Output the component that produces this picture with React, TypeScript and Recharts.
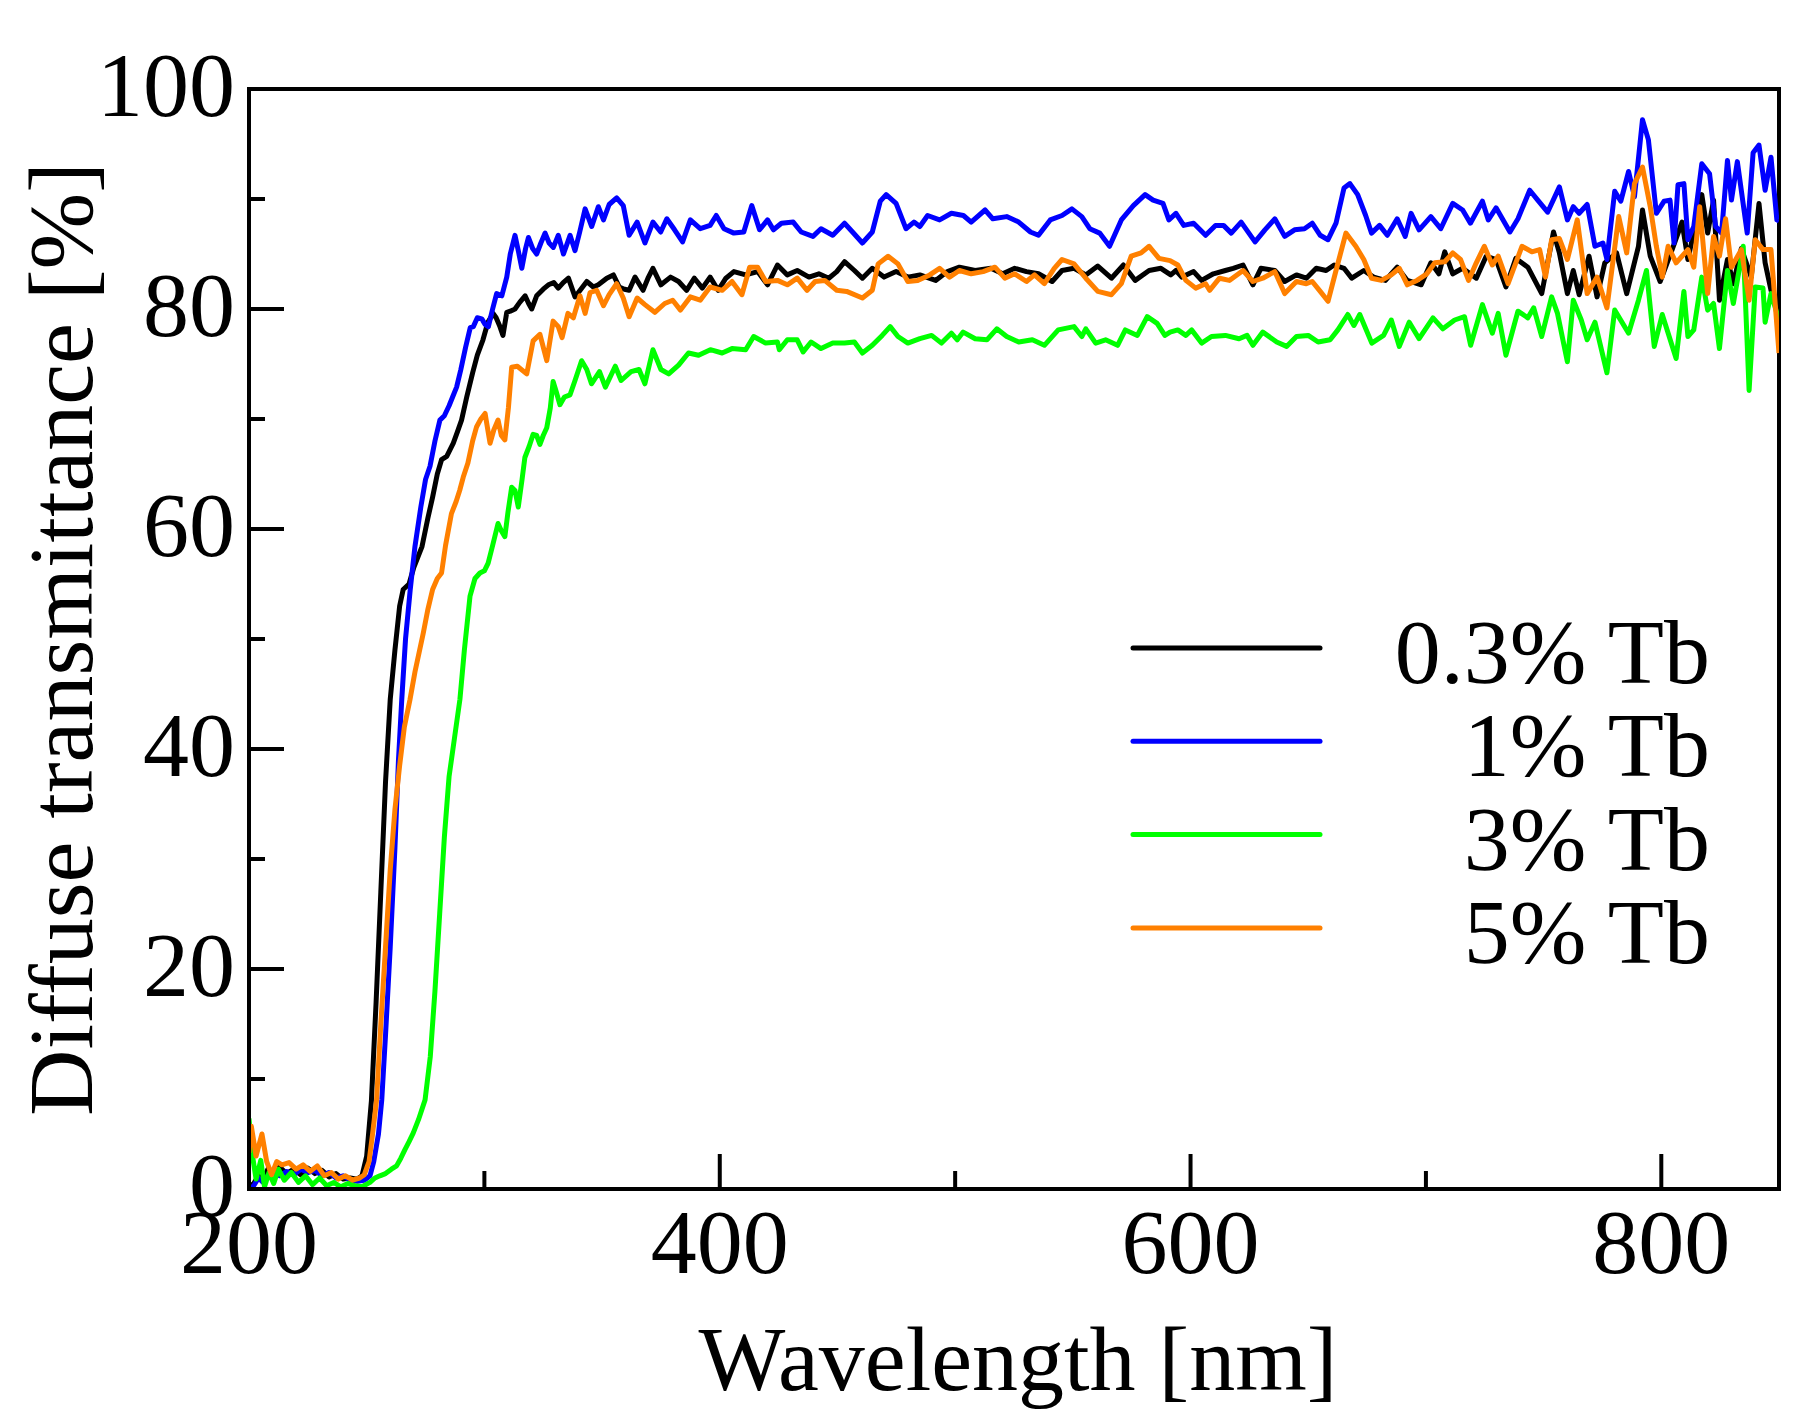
import { LineChart, Line, XAxis, YAxis, ReferenceLine, Legend } from 'recharts';

const FONT = "'Liberation Serif', 'Times New Roman', serif";

// axis ticks
const wavelengthTicks = [200, 300, 400, 500, 600, 700, 800];
const transmittanceTicks = [0, 10, 20, 30, 40, 50, 60, 70, 80, 90, 100];

const seriesNames = ['0.3% Tb', '1% Tb', '3% Tb', '5% Tb'];
const seriesColors = ['#000000', '#0000ff', '#00ff00', '#ff8000'];

// [wavelength nm, diffuse transmittance %]
const tb03: [number, number][] = [
  [200, 0.2], [202, 0.5], [204, 1.2], [206, 0.8], [208, 1.8], [210, 1.5], [213, 2.0], [216, 1.4], [219, 1.8], [222, 1.3],
  [225, 1.9], [228, 1.4], [231, 1.7], [234, 1.1], [237, 1.4], [240, 0.9], [243, 1.0], [246, 0.9], [248, 1.2], [250, 3],
  [252, 8], [254, 17], [256, 27], [258, 37], [260, 44.5], [262, 49], [264, 53], [265.5, 54.5], [268, 55], [270, 56.5],
  [273.5, 58.4], [276, 61], [278, 62.9], [280, 65], [281.8, 66.3], [284, 66.6], [286.8, 67.8], [288.5, 68.8], [290.3, 69.9],
  [292.5, 72], [295, 74.2], [297, 75.8], [299.4, 77.2], [301.5, 78.8], [303.7, 79.6], [305, 79.2], [306.6, 78.4], [307.9, 77.6],
  [309.5, 79.7], [311, 79.8], [313, 80], [315, 80.6], [317.3, 81.2], [318.8, 80.5], [320.1, 80], [322.2, 81.2], [325, 81.8],
  [327.2, 82.2], [329.5, 82.4], [331.4, 81.9], [333.5, 82.4], [335.7, 82.8], [338.5, 81.1], [341, 81.8], [343.5, 82.5],
  [346.3, 82], [348.4, 82.2], [352, 82.8], [354.8, 83.1], [357.3, 82], [359.5, 81.8], [361.5, 81.7], [364, 82.9], [367.4, 81.7],
  [369.5, 82.8], [371.6, 83.7], [375, 82.2], [379.1, 82.9], [382.5, 82.5], [385.9, 81.7], [389.2, 82.8], [392.6, 81.9],
  [395.9, 82.9], [399.3, 81.7], [402.6, 82.8], [406, 83.4], [411, 83.1], [416.1, 83.4], [420.3, 82.2], [424.5, 84], [428.7, 83.1],
  [432.9, 83.5], [437.9, 82.9], [442.1, 83.2], [446.3, 82.8], [449.7, 83.4], [453, 84.3], [457.2, 83.5], [460.6, 82.8],
  [464.8, 83.7], [469.8, 82.9], [474.9, 83.4], [479.9, 82.9], [485, 83.1], [491.7, 82.6], [496.7, 83.4], [501.8, 83.8],
  [508.5, 83.5], [515.2, 83.7], [520.2, 83.2], [525.3, 83.7], [530.3, 83.4], [535.4, 83.2], [541.2, 82.5], [545.4, 83.5],
  [550.5, 83.7], [555.5, 83.1], [560.6, 83.9], [566.4, 82.8], [571.5, 84], [576.5, 82.6], [582.4, 83.5], [587.4, 83.7],
  [591.6, 83.1], [593.8, 83.5], [596.3, 82.9], [601.3, 83.4], [604.7, 82.6], [609.7, 83.2], [614.8, 83.5], [618.1, 83.7],
  [622.3, 84], [626.5, 82.2], [629.9, 83.7], [635.8, 83.5], [640, 82.5], [645, 83.1], [649.2, 82.8], [653.4, 83.7], [657.6, 83.5],
  [661, 84], [665.2, 83.7], [668.5, 82.8], [673.6, 83.5], [677.8, 82.9], [682.8, 82.6], [687.8, 83.8], [692.1, 82.6], [698, 82.2],
  [702.1, 84.2], [705.5, 83.2], [708, 85.2], [711.4, 83.2], [715.6, 83.7], [721.4, 82.8], [725.6, 84.8], [729.8, 84.5], [734, 82],
  [738.2, 84.6], [743.3, 83.8], [749.2, 81.4], [754.2, 87], [756.7, 85.1], [760.1, 81.4], [762.6, 83.5], [765.1, 81.3],
  [769.3, 84.8], [772.7, 81.1], [776, 84.2], [781, 85.1], [785.3, 81.4], [790.3, 85.7], [792, 89], [795.3, 84.8], [799.5, 82.5],
  [804.6, 85.4], [808.8, 87.9], [811.3, 84.5], [817.2, 90.4], [819.7, 86.9], [822.2, 89.9], [824.7, 80.8], [828.1, 84.5],
  [830.6, 82.3], [834, 85.5], [838.2, 82.9], [841.5, 89.6], [844.1, 84.2], [846.6, 81.7], [850, 80.2],
];

const tb1: [number, number][] = [
  [200, 0], [202, 0.3], [204, 1.0], [206, 0.6], [208, 1.2], [210, 1.5], [213, 1.2], [216, 1.6], [219, 1.3], [222, 1.8],
  [225, 1.5], [228, 1.7], [231, 1.2], [234, 1.5], [237, 1.0], [240, 1.2], [243, 0.8], [246, 0.7], [249, 0.8], [251.4, 1.2],
  [253, 2.5], [255, 5], [256.4, 8.1], [258, 14], [260, 22], [262, 31], [263.5, 39], [264.9, 44.5], [266.5, 50], [268.5, 54.5],
  [270.5, 58.4], [273, 62], [275, 64.5], [276.9, 65.7], [279, 68], [281.1, 69.9], [283, 70.3], [285, 71.2], [286.5, 72],
  [288.2, 72.9], [290, 74.5], [292, 76.5], [294, 78.3], [295.3, 78.4], [297, 79.2], [298.9, 79.1], [300.3, 78.6], [301.7, 78.4],
  [303.5, 80], [305.2, 81.4], [307.4, 81.2], [309.5, 82.9], [311, 85], [313, 86.7], [314.5, 85.2], [315.9, 83.7], [317.5, 85.5],
  [318.7, 86.5], [320.5, 85.5], [322.2, 85], [324, 86], [325.8, 86.9], [327.5, 86], [329.3, 85.6], [331.4, 86.7], [333.6, 85],
  [336.4, 86.7], [338.5, 85.3], [340.5, 87], [342.8, 89.1], [345.6, 87.5], [348.4, 89.3], [350.6, 88.1], [353, 89.5],
  [356.2, 90.1], [359, 89.4], [361.5, 86.7], [364.9, 87.9], [368.2, 86], [371.6, 87.9], [374.9, 87], [377.5, 88.2], [380.8, 87.2],
  [384.2, 86.1], [387.5, 88.1], [391.7, 87.3], [395.9, 87.6], [398.5, 88.5], [401.8, 87.3], [406, 86.9], [410.2, 87],
  [413.6, 89.4], [416.9, 87.2], [420.3, 88.1], [422.8, 87.2], [426.2, 87.8], [431.2, 87.9], [434.6, 87], [439.6, 86.6], [443, 87.3],
  [448, 86.7], [453, 87.8], [456.4, 87], [460.6, 86], [464.8, 87], [468.2, 89.8], [470.7, 90.4], [474.9, 89.6], [479.1, 87.3],
  [482.5, 87.9], [485, 87.5], [488.3, 88.5], [493.4, 88.1], [498.4, 88.7], [503.5, 88.5], [506.8, 87.9], [512.7, 89], [516, 88.2],
  [521.9, 88.4], [527, 87.9], [532, 87], [535.4, 86.7], [540.4, 88.1], [545.4, 88.5], [549.6, 89.1], [553.8, 88.4], [557.2, 87.3],
  [561.4, 86.9], [565.6, 85.7], [570.6, 88.1], [575.7, 89.4], [580.7, 90.4], [584.1, 89.9], [588.3, 89.6], [590.8, 88.1],
  [593.8, 88.7], [597.1, 87.6], [601.3, 87.8], [606.4, 86.7], [610.6, 87.6], [614, 87.6], [617.3, 86.9], [621.5, 87.9],
  [627.4, 86.1], [631.6, 87.2], [635.8, 88.2], [640, 86.6], [644.2, 87.2], [648.4, 87.3], [651.7, 87.8], [655.1, 86.7],
  [658.4, 86.3], [661.8, 87.8], [665.2, 91], [667.7, 91.4], [671, 90.4], [674.4, 88.5], [676.9, 86.9], [680.3, 87.6],
  [683.6, 86.7], [687.8, 88.2], [691.2, 86.6], [693.7, 88.7], [697.1, 87.2], [702.1, 88.4], [706.3, 87.3], [711.4, 89.6],
  [715.6, 89], [718.9, 87.8], [724, 89.8], [726.5, 88.1], [729.8, 89.2], [735.7, 87], [739.1, 88.2], [744.1, 90.8], [747.5, 89.9],
  [751.7, 88.8], [756.7, 91.1], [760.1, 88.1], [762.6, 89.3], [765.1, 88.7], [768.5, 89.5], [771.8, 85.7], [775.2, 86],
  [776.9, 84.5], [780.2, 90.7], [782.8, 89.8], [786.1, 92.5], [788.6, 90.2], [792, 97.2], [794.5, 95.4], [797.9, 88.7],
  [801.2, 89.8], [803.7, 89.9], [805.4, 86], [807.1, 91.3], [809.6, 91.4], [811.3, 86.3], [813.8, 87.5], [817.2, 93.2],
  [820.5, 92.3], [823.1, 87.5], [825.6, 86.9], [828.1, 93.5], [829.8, 89.9], [832.3, 93.4], [836.5, 86.9], [839, 94.2],
  [841.5, 94.9], [844.1, 90.8], [846.6, 93.8], [849.1, 88.1], [850, 88],
];

const tb3: [number, number][] = [
  [200, 6.4], [201.5, 3], [203, 0.9], [205, 2.6], [206.6, 0.2], [208.5, 1.5], [210.5, 0.5], [212.5, 1.8], [215, 0.8], [218, 1.5],
  [221, 0.6], [224, 1.2], [227, 0.4], [230, 1.0], [233, 0.3], [236, 0.6], [239, 0.2], [242, 0.5], [245, 0.3], [248, 0.2],
  [251.4, 0.6], [253.5, 1.0], [255.6, 1.2], [258, 1.4], [260.5, 1.8], [262.7, 2.1], [264.5, 2.8], [266.3, 3.6], [268, 4.3],
  [269.8, 5.1], [272, 6.3], [274.8, 8.1], [277, 12], [279, 18], [281, 25], [283, 32], [285, 37.5], [287.3, 41], [289.6, 44.5],
  [291.5, 49], [293.9, 53.9], [296, 55.5], [298.1, 56], [300, 56.2], [301.6, 56.9], [303.5, 58.5], [305.8, 60.5], [307.3, 59.8],
  [308.7, 59.3], [310, 61.5], [311.6, 63.8], [313, 63.5], [314.4, 62], [316, 64.5], [317.2, 66.5], [319, 67.5], [320.7, 68.6],
  [322.2, 68.5], [323.6, 67.7], [325, 68.5], [326.5, 69.2], [328, 71], [329.2, 73.4], [330.5, 72.5], [332.1, 71.3], [334, 72],
  [336.4, 72.2], [338.5, 73.5], [341.3, 75.3], [343.5, 74.5], [345.5, 73.2], [348.9, 74.3], [351.4, 72.9], [355.6, 74.8],
  [358.1, 73.5], [362.3, 74.3], [365.7, 74.5], [368.2, 73.2], [371.6, 76.3], [375, 74.5], [378.3, 74.1], [382.5, 74.9],
  [386.7, 76], [391, 75.8], [396, 76.3], [401, 76], [405.2, 76.4], [411, 76.3], [414.4, 77.5], [419.5, 76.9], [424.5, 77],
  [425.3, 76.3], [428.7, 77.2], [432.9, 77.2], [435.4, 76.1], [438.8, 77], [443, 76.4], [448, 76.9], [453, 76.9], [457.2, 77],
  [460.6, 76], [464.8, 76.7], [469, 77.6], [472.4, 78.4], [475.7, 77.5], [479.9, 76.9], [485, 77.3], [490, 77.6], [494.2, 76.9],
  [498.4, 77.8], [500.9, 77.2], [503.4, 77.9], [508.5, 77.3], [513.5, 77.2], [517.7, 78.2], [521.9, 77.5], [527, 77],
  [532.8, 77.2], [537.9, 76.7], [543.8, 78.1], [550.5, 78.4], [553.8, 77.5], [555.5, 78.2], [559.7, 76.9], [563.9, 77.2],
  [569, 76.7], [572.3, 78.1], [577.4, 77.6], [581.6, 79.3], [585.8, 78.7], [589.1, 77.6], [591.3, 77.9], [594.6, 78.1],
  [598, 77.6], [600.5, 78.1], [604.7, 76.9], [608.9, 77.5], [614.8, 77.6], [620.6, 77.3], [624, 77.6], [626.5, 76.7],
  [630.7, 77.9], [636.6, 77], [640.8, 76.6], [645, 77.5], [650, 77.6], [654.2, 77], [659.3, 77.2], [662.6, 78.1], [666.8, 79.5],
  [669.4, 78.5], [671.9, 79.5], [677, 76.9], [682, 77.6], [685.3, 79], [688.7, 76.6], [692.9, 78.8], [697.1, 77.3], [703, 79.2],
  [707.2, 78.2], [712.2, 79], [716.4, 79.3], [719, 76.7], [724, 80.4], [728.2, 77.8], [730.7, 79.6], [734, 75.8], [739.1, 79.8],
  [743.3, 79.2], [745.8, 80.1], [749.2, 77.5], [753.4, 81.1], [755.9, 79.6], [760.1, 75.2], [762.6, 80.8], [766, 79],
  [768.5, 77.2], [771.8, 78.8], [776.9, 74.2], [780.2, 79.9], [786.1, 77.8], [790.3, 80.8], [793.7, 83.5], [797, 76.6],
  [800.4, 79.5], [806.3, 75.5], [809.6, 81.6], [811.3, 77.5], [813.8, 78.1], [817.2, 82.9], [819.7, 79.9], [822.2, 80.5],
  [824.7, 76.4], [828.1, 83.5], [830.6, 80.5], [834.8, 85.7], [837.3, 72.6], [839.9, 82], [843.2, 81.9], [844.1, 78.8],
  [846.6, 81.4], [850, 79],
];

const tb5: [number, number][] = [
  [200, 3.3], [201, 5.7], [203, 3.0], [205.5, 5.0], [207.5, 2.5], [209.6, 1.3], [211.8, 2.5], [214, 2.2], [217, 2.4], [220, 1.8],
  [223, 2.2], [226, 1.6], [229, 2.1], [232, 1.2], [235, 1.5], [238, 0.9], [241, 1.2], [244, 0.8], [247, 1.0], [249, 1.3],
  [251, 2.5], [252.5, 5], [254.2, 8.1], [256, 15], [258, 22], [260, 29], [262, 34.5], [264, 38.5], [266, 42], [268.4, 44.5],
  [270.5, 47], [272.5, 49], [274, 50.5], [276, 52.7], [278, 54.5], [280, 55.5], [281.8, 56], [283.5, 58.5], [286, 61.4],
  [288, 62.5], [289.5, 63.5], [291, 64.7], [293, 66], [295, 68], [296.7, 69.3], [298.5, 70], [300.3, 70.5], [302.4, 67.8],
  [304, 69], [305.8, 69.9], [307.2, 68.5], [308.7, 68.1], [310.2, 71], [311.6, 74.7], [314, 74.8], [318, 74.1], [320.7, 77.1],
  [323.6, 77.7], [326.5, 75.3], [329.2, 78.9], [331.4, 78.4], [333, 77.4], [335.5, 79.6], [337.8, 79.2], [340.6, 81.2],
  [342.8, 79.6], [344.9, 81.5], [347.7, 81.7], [350.6, 80.3], [353, 81.3], [356.2, 82.3], [359, 81], [361.5, 79.3], [364.9, 81],
  [368.2, 80.4], [372.4, 79.7], [376.6, 80.5], [380, 80.8], [383.3, 79.9], [387.5, 81.1], [391.7, 80.8], [395.9, 82], [401, 81.7],
  [405.2, 82.5], [409.4, 81.3], [412.7, 83.8], [416.1, 83.8], [419.5, 82.5], [424.5, 82.6], [428.7, 82.2], [432.9, 82.8],
  [437.1, 81.7], [440.5, 82.5], [444.6, 82.6], [449.7, 81.7], [453.9, 81.6], [460.6, 81], [464.8, 81.7], [467.3, 84.1],
  [471.5, 84.8], [475.7, 84.1], [479.9, 82.5], [484.1, 82.6], [489.2, 83.1], [493.4, 83.7], [497.6, 82.9], [501.8, 83.5],
  [506.8, 83.2], [511.9, 83.4], [516.9, 83.8], [521.1, 82.8], [525.3, 83.2], [530.3, 82.5], [533.7, 83.1], [537.9, 82.3],
  [542.1, 83.7], [545.4, 84.5], [550.5, 84.1], [555.5, 82.8], [560.6, 81.6], [566.4, 81.3], [570.6, 82.3], [574.8, 84.8],
  [579, 85.1], [582.4, 85.7], [586.6, 84.6], [591.3, 84.4], [594.6, 84], [598, 82.6], [602.2, 81.9], [606.4, 82.3], [608.1, 81.7],
  [612.3, 82.8], [616.5, 82.6], [622.3, 83.5], [626.5, 82.5], [630.7, 82.8], [635.8, 83.4], [640, 81.4], [645, 82.5],
  [649.2, 82.3], [651.7, 82.5], [655.1, 81.6], [658.4, 80.7], [661.8, 83.5], [666, 86.9], [670.2, 85.7], [673.6, 84.5],
  [676.9, 82.8], [681.1, 82.6], [685.3, 83.1], [688.7, 83.7], [692.1, 82.2], [696.2, 82.6], [700.4, 83.2], [703.8, 84.2],
  [708, 84.3], [711.4, 85.1], [714.7, 84.5], [718.1, 82.6], [721.4, 84.2], [724.8, 85.7], [728.2, 84], [730.7, 84.8],
  [734.9, 82.3], [740.8, 85.7], [745, 85.2], [748.3, 85.4], [750.8, 82.9], [753.4, 86.3], [756.7, 86.4], [760.1, 84.5],
  [764.3, 88.1], [768.5, 81.4], [772.7, 82.9], [776.9, 80.1], [781.9, 88.4], [785.3, 85.1], [788.6, 91.4], [792, 92.9],
  [795.3, 89.3], [797.9, 85.7], [800.4, 82.9], [802.9, 85.7], [806.3, 84.2], [811.3, 85.4], [813.8, 83.8], [816.3, 89.3],
  [819.7, 81.4], [822.2, 86.6], [824.7, 84.8], [827.3, 88.2], [829.8, 83.8], [834, 85.4], [837.3, 80.8], [839.9, 86.3],
  [843.2, 85.4], [846.6, 85.4], [850, 76],
];

const seriesPoints = [tb03, tb1, tb3, tb5];

const toRows = (pts: [number, number][]) => pts.map(([wl, t]) => ({ wl, t }));

function XTick({ x, y, payload }: any) {
  const major = payload.value % 200 === 0;
  return (
    <g>
      <line x1={x} x2={x} y1={y} y2={y - (major ? 35 : 18)} stroke="#000" strokeWidth={4} />
      {major && (
        <text x={x} y={y + 84} textAnchor="middle" fontFamily={FONT} fontSize={92} fill="#000">
          {payload.value}
        </text>
      )}
    </g>
  );
}

function YTick({ x, y, payload }: any) {
  const major = payload.value % 20 === 0;
  return (
    <g>
      <line x1={x} x2={x + (major ? 35 : 16)} y1={y} y2={y} stroke="#000" strokeWidth={4} />
      {major && (
        <text x={x - 14} y={y + 27} textAnchor="end" fontFamily={FONT} fontSize={92} fill="#000">
          {payload.value}
        </text>
      )}
    </g>
  );
}

function renderLegend({ payload }: any) {
  return (
    <svg width={640} height={400}>
      {(payload || []).map((entry: any, i: number) => {
        const cy = 48 + i * 93.3;
        return (
          <g key={entry.value}>
            <line x1={33} x2={220} y1={cy} y2={cy} stroke={entry.color} strokeWidth={5} strokeLinecap="round" />
            <text x={610} y={cy + 35} textAnchor="end" fontFamily={FONT} fontSize={92} fill="#000">
              {entry.value}
            </text>
          </g>
        );
      })}
    </svg>
  );
}

export default function App() {
  return (
    <LineChart width={1801} height={1417} margin={{ top: 81, right: 30, bottom: 235, left: 240 }}>
      <XAxis
        dataKey="wl"
        type="number"
        domain={[200, 850]}
        ticks={wavelengthTicks}
        interval={0}
        height={1}
        tickSize={0}
        tickMargin={0}
        tickLine={false}
        axisLine={{ stroke: '#000', strokeWidth: 4, strokeLinecap: 'square' }}
        tick={(p: any) => <XTick {...p} />}
        allowDataOverflow
        label={{
          content: () => (
            <text x={1010} y={1382} textAnchor="middle" fontFamily={FONT} fontSize={92} fill="#000">
              Wavelength [nm]
            </text>
          ),
        }}
      />
      <YAxis
        type="number"
        domain={[0, 100]}
        ticks={transmittanceTicks}
        interval={0}
        width={1}
        tickSize={0}
        tickMargin={0}
        tickLine={false}
        axisLine={{ stroke: '#000', strokeWidth: 4, strokeLinecap: 'square' }}
        tick={(p: any) => <YTick {...p} />}
        allowDataOverflow
        label={{
          content: () => (
            <text
              x={84}
              y={631}
              transform="rotate(-90, 84, 631)"
              textAnchor="middle"
              fontFamily={FONT}
              fontSize={92}
              fill="#000"
            >
              Diffuse transmittance [%]
            </text>
          ),
        }}
      />
      <ReferenceLine y={100} stroke="#000" strokeWidth={4} strokeLinecap="square" />
      <ReferenceLine x={850} stroke="#000" strokeWidth={4} strokeLinecap="square" />
      {seriesPoints.map((pts, i) => (
        <Line
          key={seriesNames[i]}
          data={toRows(pts)}
          dataKey="t"
          name={seriesNames[i]}
          type="linear"
          stroke={seriesColors[i]}
          strokeWidth={5}
          strokeLinejoin="round"
          dot={false}
          activeDot={false}
          isAnimationActive={false}
        />
      ))}
      <Legend
        layout="vertical"
        align="center"
        verticalAlign="middle"
        content={renderLegend}
        wrapperStyle={{ left: 1092, top: 592, width: 640, height: 400 }}
      />
    </LineChart>
  );
}
